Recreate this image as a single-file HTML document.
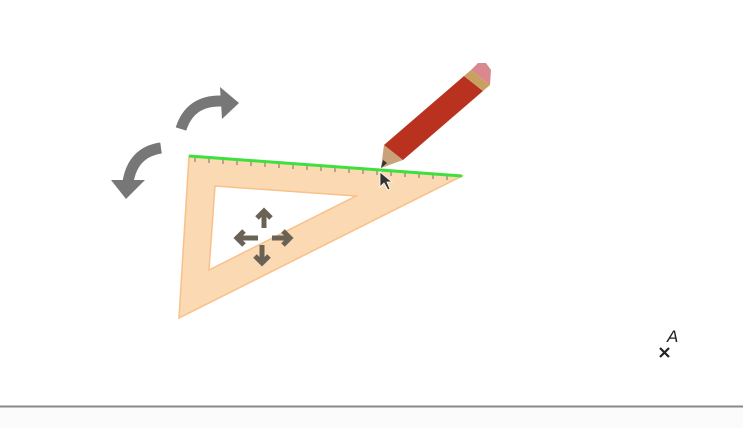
<!DOCTYPE html>
<html><head><meta charset="utf-8"><style>
html,body{margin:0;padding:0;background:#fff;width:743px;height:428px;overflow:hidden}
svg{display:block}
</style></head><body>
<svg width="743" height="428" viewBox="0 0 743 428">
<rect x="0" y="407" width="743" height="21" fill="#fbfbfb"/>
<line x1="0" y1="406.5" x2="743" y2="406.5" stroke="#888" stroke-width="2"/>
<g>
<path d="M181,129 Q190,100 222,101" fill="none" stroke="#777" stroke-width="11"/>
<polygon points="220,87 239,103 222,119" fill="#777"/>
</g>
<g>
<path d="M161,148 Q133,152 128,182" fill="none" stroke="#777" stroke-width="11"/>
<polygon points="111,180 145,180 126,199" fill="#777"/>
</g>
<path d="M189,156 L462,176 L179,318 Z M215,186 L209,270 L356,196 Z" fill="#fbd9b2" fill-rule="evenodd" stroke="#f9c08a" stroke-width="1.5"/>
<g stroke="#555" stroke-width="0.8">
<path d="M195,157v5M209,158v5M223,159v5M237,160v5M251,161v5M265,162v5M279,163v5M293,164v5M307,165v5M321,166v5M335,167v5M349,168v5M363,169v5M377,170v5M391,171v5M405,172v5M419,173v5M433,174v5M447,175v5"/>
</g>
<line x1="189" y1="156" x2="462" y2="176" stroke="#3de03d" stroke-width="3"/>
<g fill="none" stroke="#6b6256" stroke-width="5">
<path d="M264,228V212M257,218l7,-7 7,7"/>
<path d="M258,238H238M244,231l-7,7 7,7"/>
<path d="M272,238H290M283,231l7,7 -7,7"/>
<path d="M262,245V263M255,256l7,7 7,-7"/>
</g>
<g>
<polygon points="381,168 384,145 403,160" fill="#c9a27a"/>
<polygon points="381,168 383,160 387,163" fill="#333"/>
<polygon points="384,145 464,76 483,91 403,160" fill="#b8321f"/>
<polygon points="464,76 471,70 490,85 483,91" fill="#c9a060"/>
<polygon points="471,70 478,63 486,63 491,70 490,85" fill="#d9888f"/>
</g>
<polygon points="380,172 380,187 384,183 388,190 390,189 387,182 392,182" fill="#333" stroke="#fff" stroke-width="0.8"/>
<g>
<path d="M660,348l9,9M669,348l-9,9" stroke="#222" stroke-width="2.2"/>
<text x="667" y="342" font-family="Liberation Sans, sans-serif" font-style="italic" font-size="17" fill="#222">A</text>
</g>
</svg>
</body></html>
